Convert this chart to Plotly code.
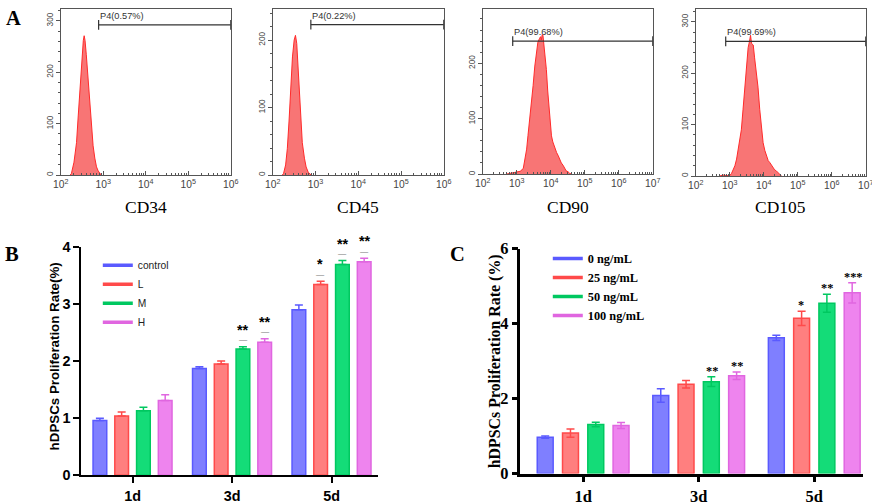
import plotly.graph_objects as go

# Page -> picture mapping measured from earlier renders: picture = A + S * page
SX, AX = 0.982, 8.2
SY, AY = 0.966, 6.5
FW, FH = 888, 520
FS = 1 / 0.974  # font compensation

def px(x): return min(max(((x - AX) / SX) / FW, 0), 1)
def py(y): return min(max(1 - ((y - AY) / SY) / FH, 0), 1)
def f(s): return s * FS

# ---------------- Panel A data (flow cytometry histograms) ----------------
markers = ["CD34", "CD45", "CD90", "CD105"]
cd34_log = [2.22, 2.25, 2.31, 2.37, 2.41, 2.45, 2.50, 2.53, 2.55, 2.57, 2.60, 2.64, 2.68, 2.72, 2.76, 2.80, 2.84, 2.88, 2.92, 2.95]
cd34_cnt = [0, 3, 25, 63, 115, 171, 235, 262, 271, 262, 234, 185, 139, 95, 57, 33, 16, 8, 3, 0]
cd45_log = [2.22, 2.25, 2.30, 2.34, 2.38, 2.42, 2.46, 2.50, 2.53, 2.56, 2.61, 2.65, 2.69, 2.74, 2.78, 2.83, 2.87, 2.90]
cd45_cnt = [0, 2, 15, 39, 80, 130, 175, 200, 207, 195, 130, 85, 48, 25, 12, 4, 1, 0]
cd90_log = [2.70, 2.80, 2.90, 3.00, 3.10, 3.19, 3.24, 3.29, 3.33, 3.38, 3.43, 3.48, 3.53, 3.58, 3.62, 3.67, 3.70, 3.72, 3.75, 3.77,
            3.80, 3.84, 3.87, 3.91, 3.95, 3.99, 4.02, 4.06, 4.10, 4.17, 4.22, 4.27, 4.31, 4.36, 4.41, 4.45, 4.51, 4.56, 4.62]
cd90_cnt = [0, 1, 2, 3, 5, 10, 25, 45, 70, 97, 130, 160, 195, 225, 238, 245, 248, 242, 252, 250,
            235, 215, 189, 150, 120, 90, 69, 58, 50, 39, 33, 25, 20, 16, 10, 6, 4, 1, 0]
cd105_log = [2.70, 2.80, 2.90, 3.00, 3.05, 3.10, 3.15, 3.20, 3.27, 3.34, 3.39, 3.44, 3.49, 3.54, 3.58, 3.61, 3.64, 3.67,
             3.69, 3.73, 3.78, 3.83, 3.88, 3.93, 3.98, 4.03, 4.08, 4.13, 4.18, 4.22, 4.27, 4.32, 4.37, 4.42, 4.47, 4.52]
cd105_cnt = [0, 2, 1, 1, 5, 12, 20, 33, 58, 90, 130, 173, 215, 250, 262, 274, 258, 257,
             255, 230, 205, 173, 130, 90, 65, 50, 40, 30, 26, 22, 17, 12, 10, 7, 4, 0]
hist_logs = [cd34_log, cd45_log, cd90_log, cd105_log]
hist_cnts = [cd34_cnt, cd45_cnt, cd90_cnt, cd105_cnt]
gate_start_log = [2.89, 2.89, 2.88, 2.88]
gate_end_log = [6, 6, 7, 7]
gate_level = [292, 223, 240, 262]
gate_labels = ["P4(0.57%)", "P4(0.22%)", "P4(99.68%)", "P4(99.69%)"]
hist_xmax_log = [6, 6, 7, 7]
hist_ymax = [323, 246, 298, 325]
hist_yticks = [[0, 100, 200, 300], [0, 100, 200], [0, 100, 200], [0, 100, 200, 300]]

# ---------------- Panel B data ----------------
days = ["1d", "3d", "5d"]
b_names = ["control", "L", "M", "H"]
b_control = [0.96, 1.87, 2.90]
b_control_err = [0.04, 0.03, 0.08]
b_L = [1.04, 1.95, 3.34]
b_L_err = [0.07, 0.05, 0.06]
b_M = [1.13, 2.21, 3.69]
b_M_err = [0.06, 0.04, 0.07]
b_H = [1.31, 2.33, 3.74]
b_H_err = [0.10, 0.06, 0.06]
b_control_sig = ["", "", ""]
b_L_sig = ["", "", "*"]
b_M_sig = ["", "**", "**"]
b_H_sig = ["", "**", "**"]

# ---------------- Panel C data ----------------
c_names = ["0 ng/mL", "25 ng/mL", "50 ng/mL", "100 ng/mL"]
c_0 = [0.97, 2.08, 3.62]
c_0_err = [0.03, 0.18, 0.07]
c_25 = [1.08, 2.38, 4.14]
c_25_err = [0.11, 0.10, 0.19]
c_50 = [1.31, 2.45, 4.54]
c_50_err = [0.06, 0.13, 0.24]
c_100 = [1.28, 2.61, 4.82]
c_100_err = [0.08, 0.10, 0.27]
c_0_sig = ["", "", ""]
c_25_sig = ["", "", "*"]
c_50_sig = ["", "**", "**"]
c_100_sig = ["", "**", "***"]

fill_cols = ["#7f7fff", "#ff7f7f", "#14dc78", "#ee84ee"]
line_cols = ["#5a5aff", "#ff4a4a", "#00c860", "#e066e0"]

BARGAP = 0.125
BARGROUPGAP = 0.37

fig = go.Figure()
annotations = []

# ---------------- Panel A ----------------
hist_dom_x = [(61, 231), (273, 444), (483, 653), (696, 866)]
hist_dom_y = [(3, 173), (3, 173), (3, 172), (4, 174)]
grey = "#555555"
for i in range(4):
    xa = "x" if i == 0 else f"x{i+1}"
    ya = "y" if i == 0 else f"y{i+1}"
    xs = [10 ** v for v in hist_logs[i]]
    fig.add_trace(go.Scatter(x=xs, y=hist_cnts[i], mode="lines", xaxis=xa, yaxis=ya,
                             line=dict(color="#ff2a2a", width=1), fill="tozeroy",
                             fillcolor="rgba(248,110,110,0.95)", showlegend=False, hoverinfo="skip"))
    g0, g1 = 10 ** gate_start_log[i], 10 ** gate_end_log[i]
    fig.add_trace(go.Scatter(x=[g0, g1], y=[gate_level[i], gate_level[i]], mode="lines+markers",
                             xaxis=xa, yaxis=ya, line=dict(color="#333333", width=1.2),
                             marker=dict(symbol="line-ns", size=7, line=dict(width=1.2, color="#333333")),
                             showlegend=False, hoverinfo="skip", cliponaxis=False))
    annotations.append(dict(x=gate_start_log[i], y=gate_level[i], xref=xa, yref=ya, text=gate_labels[i],
                            showarrow=False, xanchor="left", yanchor="bottom", yshift=2, xshift=-1,
                            font=dict(family="Liberation Sans", size=f(9), color="#333333")))
    d0, d1 = py(hist_dom_y[i][1]), py(hist_dom_y[i][0])
    annotations.append(dict(x=0.5, y=(py(205) - d0) / (d1 - d0),
                            xref=f"{xa} domain", yref=f"{ya} domain", text=markers[i], showarrow=False,
                            xanchor="center", yanchor="middle",
                            font=dict(family="Liberation Serif", size=f(17), color="black")))
    xk = "xaxis" if i == 0 else f"xaxis{i+1}"
    yk = "yaxis" if i == 0 else f"yaxis{i+1}"
    fig.layout[xk] = dict(domain=[px(hist_dom_x[i][0]), px(hist_dom_x[i][1])], anchor=ya, type="log",
                          range=[2, hist_xmax_log[i]], dtick=1, exponentformat="power",
                          showline=True, linecolor=grey, linewidth=1, mirror=True,
                          ticks="inside", ticklen=4, tickcolor=grey,
                          minor=dict(ticks="inside", ticklen=2, tickcolor=grey, dtick="D1"),
                          showgrid=False, zeroline=False,
                          tickfont=dict(family="Liberation Sans", size=f(8), color="#444444"))
    fig.layout[yk] = dict(domain=[d0, d1], anchor=xa,
                          range=[0, hist_ymax[i]], tickvals=hist_yticks[i], tickangle=-90,
                          showline=True, linecolor=grey, linewidth=1, mirror=True,
                          ticks="outside", ticklen=4, tickcolor=grey,
                          minor=dict(ticks="outside", ticklen=2, tickcolor=grey, dtick=20),
                          showgrid=False, zeroline=False,
                          tickfont=dict(family="Liberation Sans", size=f(8), color="#444444"))

# ---------------- Bar panels ----------------
RANGES = {"x5": (-0.513, 2.465), "x6": (-0.542, 2.42)}
B_DX, B_DY = (81.7, 378), (245, 474)
C_DX, C_DY = (520.7, 863), (246.7, 472.3)

def span(xa):
    return RANGES[xa][1] - RANGES[xa][0]

def add_panel(series, errs, sigs, names, xa, ya, legend, symmetric, dx, sig_font, sig_line):
    cat_px = (px(dx[1]) - px(dx[0])) * FW / span(xa)
    slot = cat_px * (1 - BARGAP) / 4
    for k in range(4):
        err = dict(type="data", array=errs[k], visible=True, color=line_cols[k], thickness=1.5, width=4)
        if not symmetric:
            err["symmetric"] = False
            err["arrayminus"] = [0] * len(errs[k])
        fig.add_trace(go.Bar(x=days, y=series[k], name=names[k], xaxis=xa, yaxis=ya,
                             marker=dict(color=fill_cols[k], line=dict(color=line_cols[k], width=1.5)),
                             error_y=err, showlegend=False, hoverinfo="skip"))
        fig.add_trace(go.Scatter(x=[None], y=[None], mode="lines", name=names[k], xaxis=xa, yaxis=ya,
                                 line=dict(color=line_cols[k], width=3.5), legend=legend, showlegend=True))
        off = (k - 1.5) * slot
        for j, s in enumerate(sigs[k]):
            if not s:
                continue
            top = series[k][j] + errs[k][j]
            if sig_line:
                annotations.append(dict(x=days[j], y=top, xref=xa, yref=ya, text="\u2014", showarrow=False,
                                        xshift=off, yshift=6, yanchor="middle", xanchor="center",
                                        font=dict(family="Liberation Sans", size=f(8), color="#777777")))
                annotations.append(dict(x=days[j], y=top, xref=xa, yref=ya, text=s, showarrow=False,
                                        xshift=off, yshift=17, yanchor="middle", xanchor="center", font=sig_font))
            else:
                annotations.append(dict(x=days[j], y=top, xref=xa, yref=ya, text=s, showarrow=False,
                                        xshift=off, yshift=-3, yanchor="bottom", xanchor="center", font=sig_font))

add_panel([b_control, b_L, b_M, b_H], [b_control_err, b_L_err, b_M_err, b_H_err],
          [b_control_sig, b_L_sig, b_M_sig, b_H_sig], b_names, "x5", "y5", "legend", False, B_DX,
          dict(family="Liberation Sans", size=f(14), color="black", weight="bold"), True)
add_panel([c_0, c_25, c_50, c_100], [c_0_err, c_25_err, c_50_err, c_100_err],
          [c_0_sig, c_25_sig, c_50_sig, c_100_sig], c_names, "x6", "y6", "legend2", True, C_DX,
          dict(family="Liberation Serif", size=f(12), color="black", weight="bold"), False)

arial_b = dict(family="Liberation Sans", size=f(14), color="black", weight="bold")
times_b = dict(family="Liberation Serif", size=f(16), color="black", weight="bold")

fig.layout["xaxis5"] = dict(domain=[px(B_DX[0]), px(B_DX[1])], anchor="y5", range=list(RANGES["x5"]),
                            showline=True, linecolor="black", linewidth=2, ticks="outside", ticklen=6,
                            tickwidth=2, tickcolor="black", tickfont=arial_b, showgrid=False, zeroline=False)
fig.layout["yaxis5"] = dict(domain=[py(B_DY[1]), py(B_DY[0])], anchor="x5", range=[0, 4], dtick=1,
                            showline=True, linecolor="black", linewidth=2, ticks="outside", ticklen=6,
                            tickwidth=2, tickcolor="black", tickfont=arial_b, showgrid=False, zeroline=False)
fig.layout["xaxis6"] = dict(domain=[px(C_DX[0]), px(C_DX[1])], anchor="y6", range=list(RANGES["x6"]),
                            showline=True, linecolor="black", linewidth=2.5, ticks="outside", ticklen=6,
                            tickwidth=2.5, tickcolor="black", tickfont=times_b, showgrid=False, zeroline=False)
fig.layout["yaxis6"] = dict(domain=[py(C_DY[1]), py(C_DY[0])], anchor="x6", range=[0, 6], dtick=2,
                            showline=True, linecolor="black", linewidth=2.5, ticks="outside", ticklen=6,
                            tickwidth=2.5, tickcolor="black", tickfont=times_b, showgrid=False, zeroline=False)

def lab(x, y, text, font, angle=0):
    return dict(x=px(x), y=py(y), xref="paper", yref="paper", text=text, textangle=angle,
                showarrow=False, xanchor="center", yanchor="middle", font=font)

annotations += [
    lab(55, 355, "hDPSCs Proliferation Rate(%)",
        dict(family="Liberation Sans", size=f(13), color="black", weight="bold"), -90),
    lab(495, 360, "hDPSCs Proliferation Rate (%)",
        dict(family="Liberation Serif", size=f(15.5), color="black", weight="bold"), -90),
    lab(14, 16, "A", dict(family="Liberation Serif", size=f(20), color="black", weight="bold")),
    lab(12, 252, "B", dict(family="Liberation Serif", size=f(20), color="black", weight="bold")),
    lab(458, 252, "C", dict(family="Liberation Serif", size=f(20), color="black", weight="bold")),
]

fig.update_layout(
    width=FW, height=FH, margin=dict(l=0, r=0, t=0, b=0), autosize=False,
    paper_bgcolor="white", plot_bgcolor="white",
    barmode="group", bargap=BARGAP, bargroupgap=BARGROUPGAP,
    annotations=annotations,
    legend=dict(x=px(98), y=py(249), xanchor="left", yanchor="top", bgcolor="rgba(0,0,0,0)",
                font=dict(family="Liberation Sans", size=f(10), color="#222222"), itemwidth=30),
    legend2=dict(x=px(548), y=py(242), xanchor="left", yanchor="top", bgcolor="rgba(0,0,0,0)",
                 font=dict(family="Liberation Serif", size=f(12), color="black", weight="bold"), itemwidth=30),
)

fig.write_html("out.html", config={"displayModeBar": False},
               post_script="document.body.style.margin='0';document.body.style.padding='0';"
                           "document.documentElement.style.overflow='hidden';")
